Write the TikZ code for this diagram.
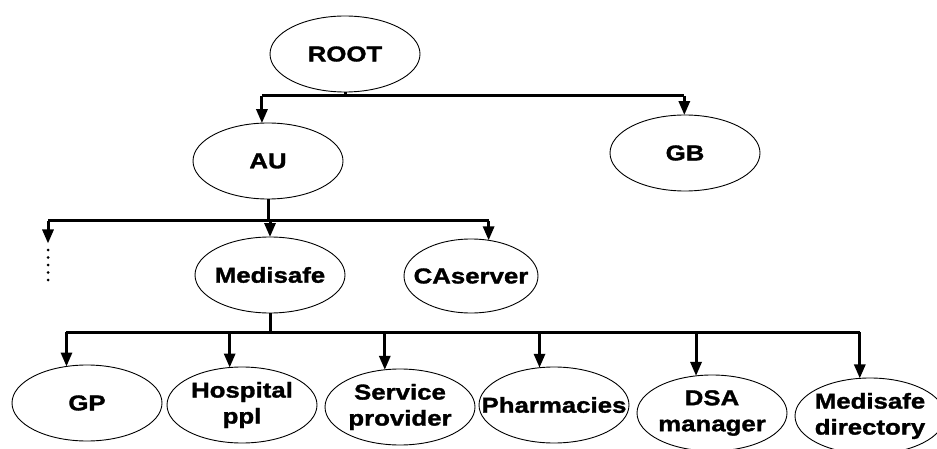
\documentclass[tikz,border=0pt]{standalone}
\usepackage{fontspec}
\setmainfont[FakeStretch=1.2,FakeBold=1.5]{Liberation Sans}
\usetikzlibrary{shapes.geometric,arrows.meta}
\begin{document}
\begin{tikzpicture}[x=1pt,y=-1pt,
  ell/.style={draw,ellipse,line width=0.9pt,inner sep=0pt,minimum width=150pt,minimum height=76pt},
  lbl/.style={font=\fontsize{21.5}{26}\selectfont\bfseries,align=center,inner sep=0pt},
  bus/.style={line width=3pt},
  arr/.style={line width=3pt,-{Triangle[length=14pt,width=11pt]},shorten >=-0.5pt}]
\useasboundingbox (0,0) rectangle (937,449);
% nodes
\node[ell] (root) at (345,54) {};
\node[lbl] (roott) at (root) {ROOT};
\node[ell] (au) at (268,161) {};
\node[lbl] (aut) at (au) {AU};
\node[ell] (gb) at (685,153) {};
\node[lbl] (gbt) at (gb) {GB};
\node[ell] (med) at (270,275) {};
\node[lbl] (medt) at (med) {Medisafe};
\node[ell,minimum width=134pt,minimum height=74pt] (ca) at (471,276) {};
\node[lbl] (cat) at (ca) {CAserver};
\node[ell] (gp) at (87,403) {};
\node[lbl] (gpt) at (gp) {GP};
\node[ell] (hos) at (242,405) {};
\node[lbl] (host) at (hos) {Hospital\\ppl};
\node[ell] (ser) at (400,407) {};
\node[lbl] (sert) at (ser) {Service\\provider};
\node[ell] (pha) at (554,405) {};
\node[lbl] (phat) at (pha) {Pharmacies};
\node[ell] (dsa) at (712,413) {};
\node[lbl] (dsat) at (dsa) {DSA\\manager};
\node[ell] (mdir) at (870,416) {};
\node[lbl] (mdirt) at (mdir) {Medisafe\\directory};
% root level
\coordinate (rbus) at (345,96);
\draw[bus] (root.south) -- (rbus);
\draw[bus] (au.99 |- rbus) -- (gb.91 |- rbus);
\draw[arr] (au.99 |- rbus) -- (au.99);
\draw[arr] (gb.91 |- rbus) -- (gb.91);
% AU level
\coordinate (abus) at (263,221);
\coordinate (dotl) at (48,243);
\draw[bus] (au.south) -- (au.south |- abus);
\draw[bus] (dotl |- abus) -- (ca.64 |- abus);
\draw[arr] (dotl |- abus) -- (dotl);
\draw[arr] (med.north |- abus) -- (med.north);
\draw[arr] (ca.64 |- abus) -- (ca.64);
\foreach \k in {0,...,4} \fill (48,{250+\k*7.5}) circle (1.5pt);
% Medisafe level
\coordinate (mbus) at (270,332);
\draw[bus] (med.south) -- (mbus);
\draw[bus] (gp.119 |- mbus) -- (mdir.105 |- mbus);
\draw[arr] (gp.119 |- mbus) -- (gp.119);
\draw[arr] (hos.108 |- mbus) -- (hos.108);
\draw[arr] (ser.112 |- mbus) -- (ser.112);
\draw[arr] (pha.111 |- mbus) -- (pha.111);
\draw[arr] (dsa.113 |- mbus) -- (dsa.113);
\draw[arr] (mdir.105 |- mbus) -- (mdir.105);
\end{tikzpicture}
\end{document}
